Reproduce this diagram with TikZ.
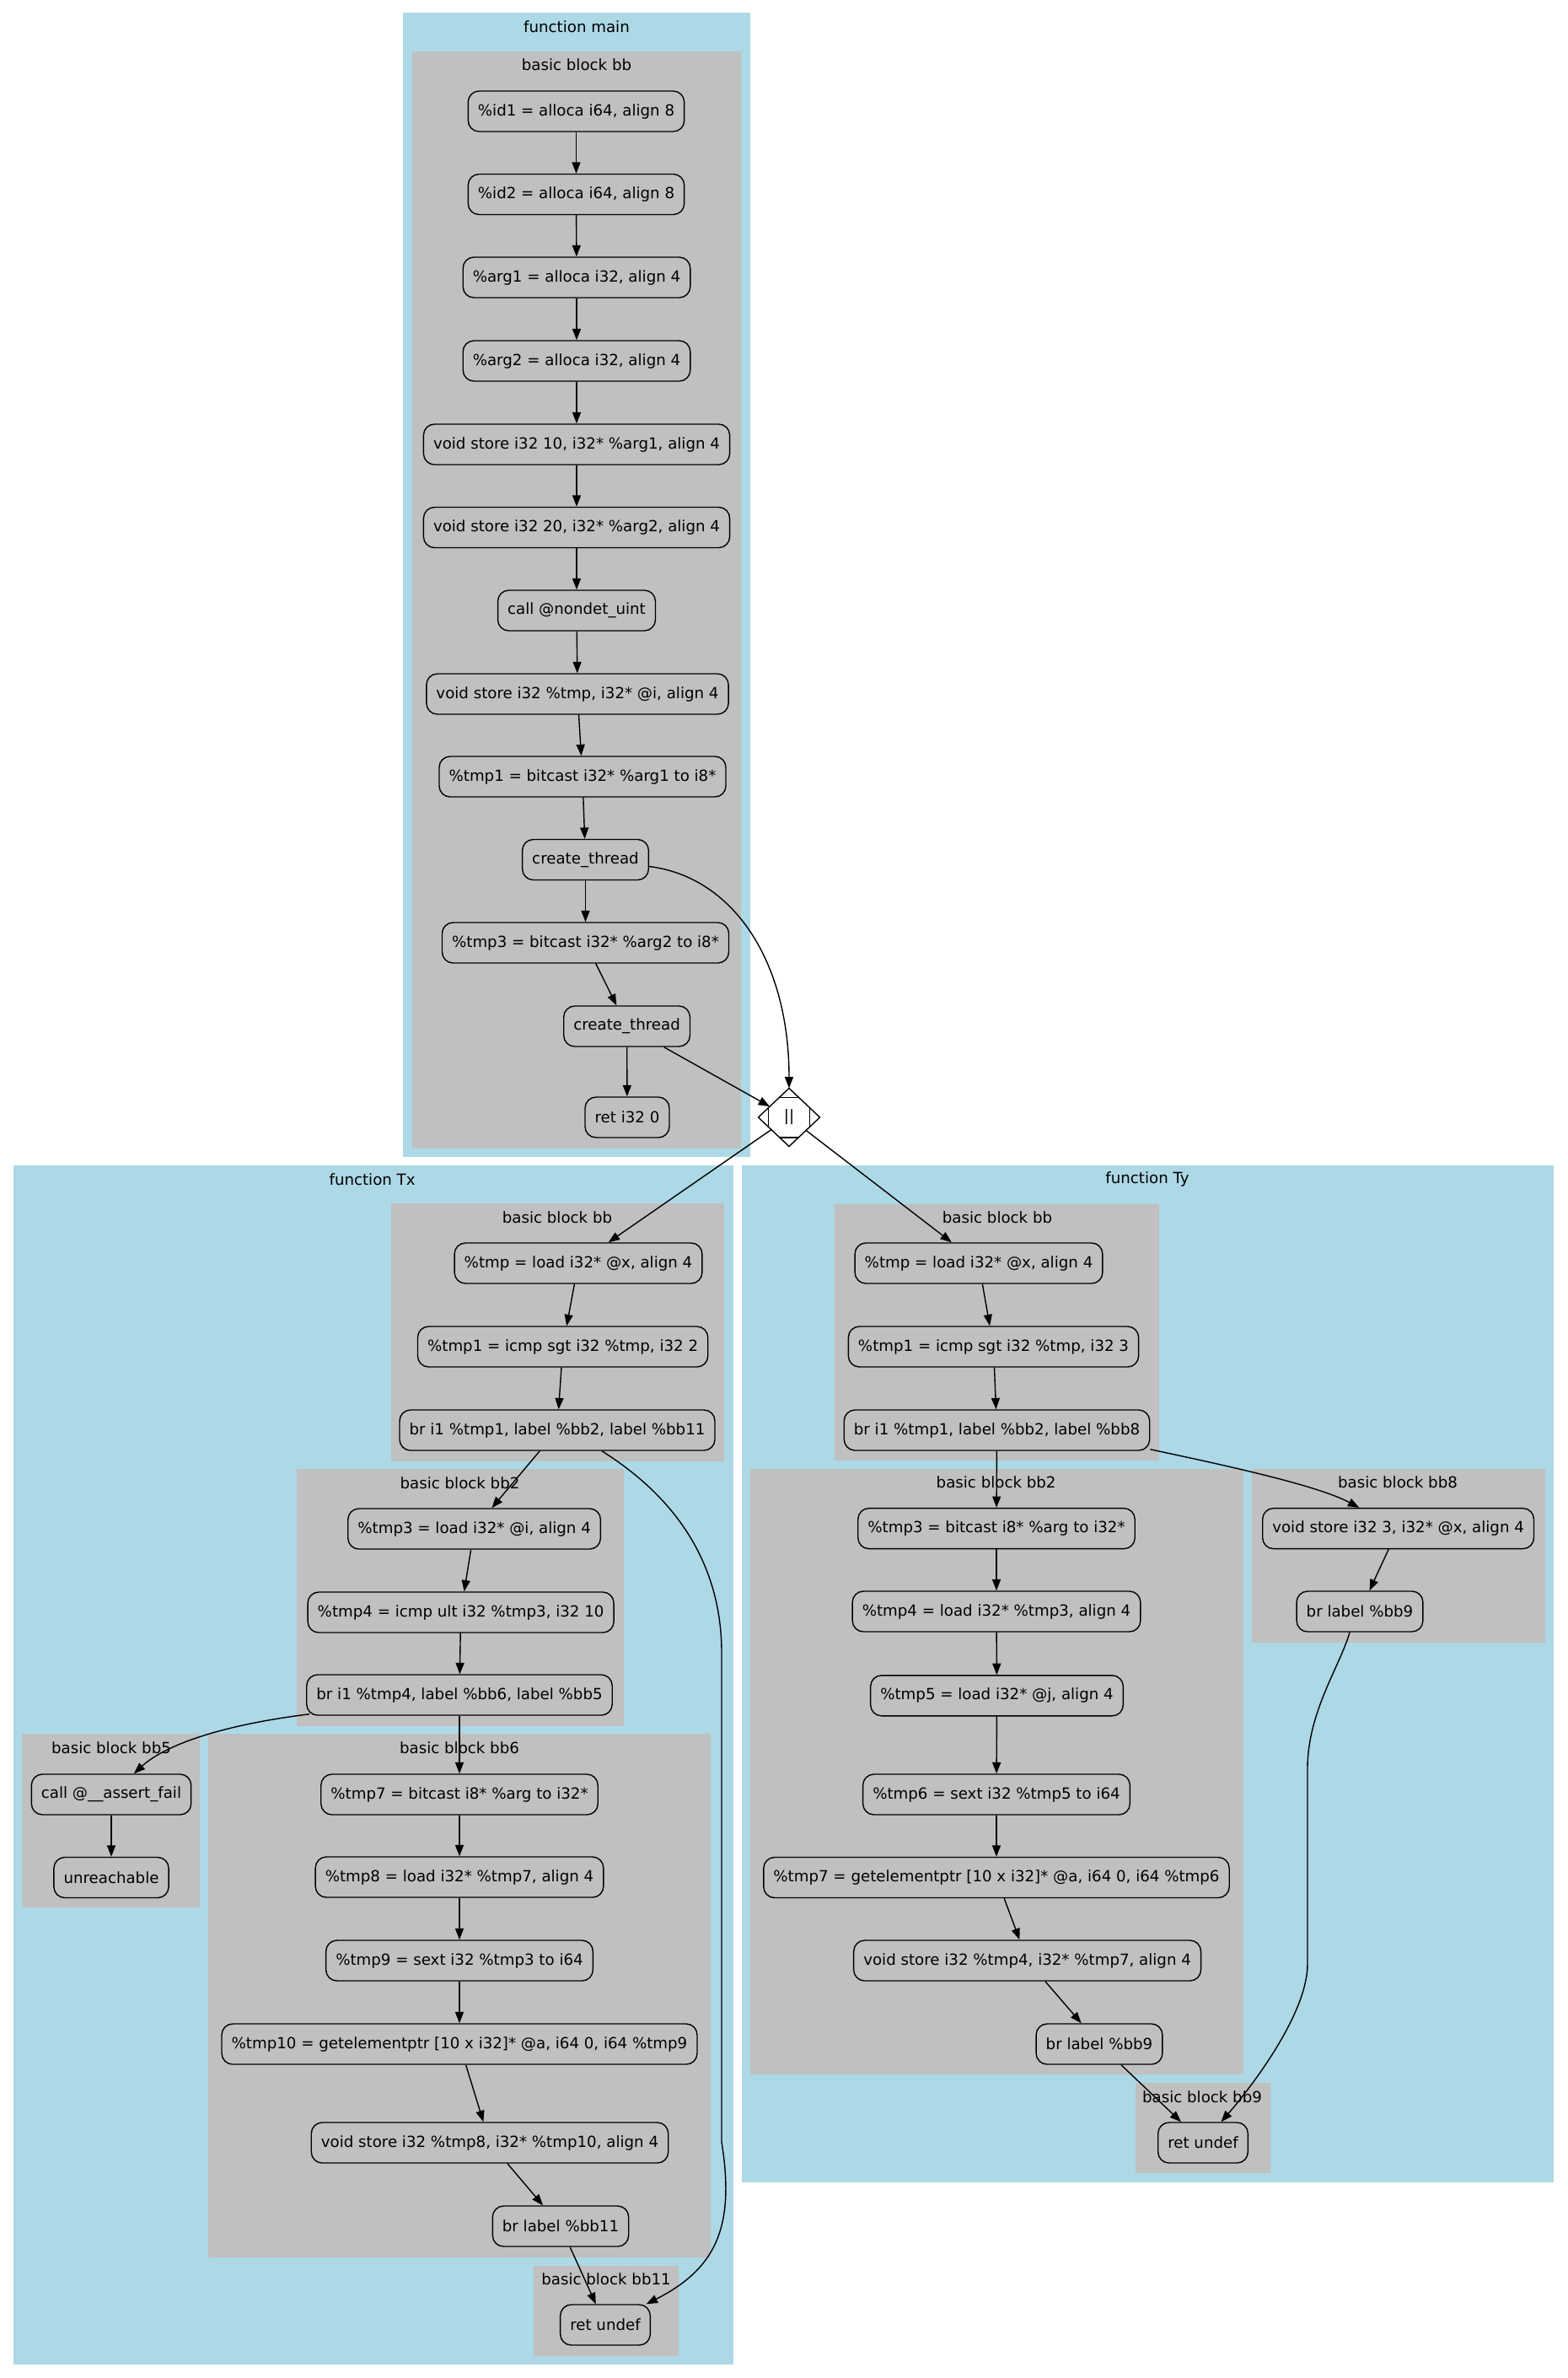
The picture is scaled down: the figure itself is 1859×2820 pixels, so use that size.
\documentclass[tikz,border=0pt]{standalone}
\usepackage{fontspec}
\setmainfont{DejaVu Sans}
\usetikzlibrary{arrows.meta,shapes.geometric,calc}
\definecolor{clblue}{HTML}{ADD8E6}
\definecolor{clgrey}{HTML}{C0C0C0}
\begin{document}
\begin{tikzpicture}[x=0.5pt,y=-0.5pt,
  inst/.style={draw, rounded corners=6.5pt, fill=clgrey, line width=0.7pt, minimum height=24pt, inner xsep=5.8pt, inner ysep=0pt, font=\fontsize{9.1}{11}\selectfont},
  clab/.style={font=\fontsize{9.1}{11}\selectfont, inner sep=0pt},
  conn/.style={-{Triangle[length=6.7pt,width=5pt]}, line width=0.7pt},
  mdia/.style={draw, diamond, line width=0.7pt, minimum width=36.5pt, minimum height=34.5pt, inner sep=0pt, outer sep=0pt, fill=white, font=\fontsize{9.1}{11}\selectfont}
]
\useasboundingbox (0,0) rectangle (1859,2820);
\fill[white] (0,0) rectangle (1859,2820);
% clusters
\fill[clblue] (478,15) rectangle (890,1372);
\fill[clgrey] (489,61) rectangle (879,1362);
\fill[clblue] (15.7,1382) rectangle (870,2803.7);
\fill[clgrey] (463.5,1427.4) rectangle (858.6,1732.7);
\fill[clgrey] (352.4,1742) rectangle (740,2046.8);
\fill[clgrey] (26.4,2056.4) rectangle (237.4,2262.4);
\fill[clgrey] (247,2056.4) rectangle (843,2676.8);
\fill[clgrey] (633,2686.8) rectangle (805,2793.7);
\fill[clblue] (879.5,1381.8) rectangle (1843,2588);
\fill[clgrey] (990,1427.6) rectangle (1375,1732.4);
\fill[clgrey] (890,1742.2) rectangle (1475,2460);
\fill[clgrey] (1485,1742) rectangle (1832.7,1948.4);
\fill[clgrey] (1347,2470) rectangle (1507,2577);
% cluster labels
\node[clab] (lmain) at (684,31.7) {function main};
\node[clab] (lmainbb) at (684,76.7) {basic block bb};
\node[clab] (ltx) at (441.6,1398.5) {function Tx};
\node[clab] (ltxbb) at (661,1443.5) {basic block bb};
\node[clab] (ltxbb2) at (545.5,1758.4) {basic block bb2};
\node[clab] (ltxbb5) at (132,2072.5) {basic block bb5};
\node[clab] (ltxbb6) at (545,2072.5) {basic block bb6};
\node[clab] (ltxbb11) at (719,2702.7) {basic block bb11};
\node[clab] (lty) at (1361,1398.6) {function Ty};
\node[clab] (ltybb) at (1183,1443.5) {basic block bb};
\node[clab] (ltybb2) at (1181.6,1758) {basic block bb2};
\node[clab] (ltybb8) at (1658,1758) {basic block bb8};
\node[clab] (ltybb9) at (1426,2486.6) {basic block bb9};
% main nodes
\node[inst] (m1) at (683.5,132) {\%id1 = alloca i64, align 8};
\node[inst] (m2) at (683.5,230.5) {\%id2 = alloca i64, align 8};
\node[inst] (m3) at (684,329) {\%arg1 = alloca i32, align 4};
\node[inst] (m4) at (684,428) {\%arg2 = alloca i32, align 4};
\node[inst] (m5) at (684,527) {void store i32 10, i32* \%arg1, align 4};
\node[inst] (m6) at (684,625.5) {void store i32 20, i32* \%arg2, align 4};
\node[inst] (m7) at (684,724) {call @nondet\_uint};
\node[inst] (m8) at (685,823) {void store i32 \%tmp, i32* @i, align 4};
\node[inst] (m9) at (691,921) {\%tmp1 = bitcast i32* \%arg1 to i8*};
\node[inst] (m10) at (694.5,1019.5) {create\_thread};
\node[inst] (m11) at (694.5,1118) {\%tmp3 = bitcast i32* \%arg2 to i8*};
\node[inst] (m12) at (743.6,1217) {create\_thread};
\node[inst] (m13) at (744,1325) {ret i32 0};
\node[mdia] (d) at (936,1325) {||};
\draw[line width=0.7pt] ($(d.north)!0.31!(d.west)$) -- ($(d.north)!0.31!(d.east)$);
\draw[line width=0.7pt] ($(d.south)!0.31!(d.west)$) -- ($(d.south)!0.31!(d.east)$);
\draw[line width=0.7pt] ($(d.west)!0.33!(d.north)$) -- ($(d.west)!0.33!(d.south)$);
\draw[line width=0.7pt] ($(d.east)!0.33!(d.north)$) -- ($(d.east)!0.33!(d.south)$);
% Tx nodes
\node[inst] (a1) at (686,1498) {\%tmp = load i32* @x, align 4};
\node[inst] (a2) at (667.6,1597) {\%tmp1 = icmp sgt i32 \%tmp, i32 2};
\node[inst] (a3) at (661,1696) {br i1 \%tmp1, label \%bb2, label \%bb11};
\node[inst] (a4) at (562.6,1813) {\%tmp3 = load i32* @i, align 4};
\node[inst] (a5) at (546.6,1912) {\%tmp4 = icmp ult i32 \%tmp3, i32 10};
\node[inst] (a6) at (545,2010) {br i1 \%tmp4, label \%bb6, label \%bb5};
\node[inst] (a7) at (132,2128) {call @\_\_assert\_fail};
\node[inst] (a8) at (132,2226.5) {unreachable};
\node[inst] (a9) at (545,2128) {\%tmp7 = bitcast i8* \%arg to i32*};
\node[inst] (a10) at (545,2226) {\%tmp8 = load i32* \%tmp7, align 4};
\node[inst] (a11) at (545,2325) {\%tmp9 = sext i32 \%tmp3 to i64};
\node[inst] (a12) at (545,2424) {\%tmp10 = getelementptr [10 x i32]* @a, i64 0, i64 \%tmp9};
\node[inst] (a13) at (581,2541) {void store i32 \%tmp8, i32* \%tmp10, align 4};
\node[inst] (a14) at (665,2640) {br label \%bb11};
\node[inst] (a15) at (718,2757) {ret undef};
% Ty nodes
\node[inst] (b1) at (1161,1498) {\%tmp = load i32* @x, align 4};
\node[inst] (b2) at (1178.5,1597) {\%tmp1 = icmp sgt i32 \%tmp, i32 3};
\node[inst] (b3) at (1182.5,1696) {br i1 \%tmp1, label \%bb2, label \%bb8};
\node[inst] (b4) at (1182,1812.6) {\%tmp3 = bitcast i8* \%arg to i32*};
\node[inst] (b5) at (1182,1911) {\%tmp4 = load i32* \%tmp3, align 4};
\node[inst] (b6) at (1182.5,2010.8) {\%tmp5 = load i32* @j, align 4};
\node[inst] (b7) at (1182,2128) {\%tmp6 = sext i32 \%tmp5 to i64};
\node[inst] (b8) at (1182,2226.5) {\%tmp7 = getelementptr [10 x i32]* @a, i64 0, i64 \%tmp6};
\node[inst] (b9) at (1218.6,2325) {void store i32 \%tmp4, i32* \%tmp7, align 4};
\node[inst] (b10) at (1304,2424) {br label \%bb9};
\node[inst] (b11) at (1427,2541) {ret undef};
\node[inst] (b12) at (1658.6,1812.6) {void store i32 3, i32* @x, align 4};
\node[inst] (b13) at (1613,1911) {br label \%bb9};
% main edges
\foreach \p/\q in {m1/m2,m2/m3,m3/m4,m4/m5,m5/m6,m6/m7,m7/m8,m8/m9,m9/m10,m10/m11,m11/m12,m12/m13,m12/d}
  \draw[conn] (\p) -- (\q);
\draw[conn] ($(m10.east)+(0,8)$) .. controls (870,1040) and (936,1140) .. (d);
\draw[conn] (d) -- (a1);
\draw[conn] (d) -- (b1);
% Tx edges
\foreach \p/\q in {a1/a2,a2/a3,a3/a4,a4/a5,a5/a6,a6/a9,a7/a8,a9/a10,a10/a11,a11/a12,a12/a13,a13/a14,a14/a15}
  \draw[conn] (\p) -- (\q);
\draw[conn] ($(a3.south)+(53,0)$) .. controls (760,1750) and (856,1820) .. (856,1960) -- (856,2540) .. controls (872,2640) and (850,2690) .. (a15);
\draw[conn] ($(a6.south west)+(4,-2)$) .. controls (260,2046) and (195,2070) .. (a7);
% Ty edges
\foreach \p/\q in {b1/b2,b2/b3,b3/b4,b4/b5,b5/b6,b6/b7,b7/b8,b8/b9,b9/b10,b10/b11,b12/b13}
  \draw[conn] (\p) -- (\q);
\draw[conn] ($(b3.south east)+(0,-2)$) .. controls (1440,1735) and (1560,1760) .. (b12);
\draw[conn] ($(b13.south)+(-12,0)$) .. controls (1590,1975) and (1551,2030) .. (1551,2097) -- (1551,2329) .. controls (1551,2390) and (1480,2480) .. (b11);
\end{tikzpicture}
\end{document}
